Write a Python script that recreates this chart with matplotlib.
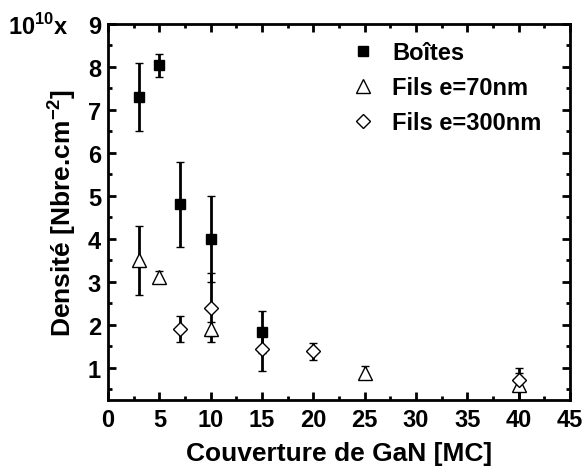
import matplotlib
matplotlib.use("Agg")
import matplotlib.pyplot as plt
from matplotlib.ticker import MultipleLocator

plt.rcParams["font.family"] = ["Liberation Sans", "DejaVu Sans"]
plt.rcParams["font.weight"] = "bold"
plt.rcParams["mathtext.fontset"] = "custom"
plt.rcParams["mathtext.rm"] = "Liberation Sans:bold"
plt.rcParams["mathtext.bf"] = "Liberation Sans:bold"

# Boîtes (quantum dots)
x_boites = [3, 5, 7, 10, 15]
y_boites = [7.3, 8.04, 4.8, 4.0, 1.83]
err_boites = [0.8, 0.27, 1.0, 1.0, 0.49]

# Fils e=70nm
x_fils70 = [3, 5, 10, 25, 40]
y_fils70 = [3.5, 3.12, 1.9, 0.88, 0.6]
err_fils70 = [0.8, 0.13, 0.17, 0.15, 0.4]

# Fils e=300nm
x_fils300 = [7, 10, 15, 20, 40]
y_fils300 = [1.9, 2.4, 1.43, 1.38, 0.72]
err_fils300 = [0.3, 0.8, 0.5, 0.2, 0.15]

labels = ["Boîtes", "Fils e=70nm", "Fils e=300nm"]

fig = plt.figure(figsize=(5.85, 4.77), dpi=100)
ax = fig.add_axes([108 / 585, 1 - 401 / 477, 462 / 585, 376 / 477])

common = dict(ls="none", ecolor="black", elinewidth=2, capsize=3, capthick=2,
              markeredgecolor="black", markeredgewidth=1)
h1 = ax.errorbar(x_boites, y_boites, yerr=err_boites, marker="s", ms=7,
                 markerfacecolor="black", **common)
h2 = ax.errorbar(x_fils70, y_fils70, yerr=err_fils70, marker="^", ms=10,
                 markerfacecolor="white", **common)
h3 = ax.errorbar(x_fils300, y_fils300, yerr=err_fils300, marker="D", ms=7.5,
                 markerfacecolor="white", **common)

ax.set_xlim(0, 45)
ax.set_ylim(0.25, 9)
ax.xaxis.set_major_locator(MultipleLocator(5))
ax.xaxis.set_minor_locator(MultipleLocator(2.5))
ax.yaxis.set_major_locator(MultipleLocator(1))
ax.yaxis.set_minor_locator(MultipleLocator(0.5))
ax.tick_params(which="both", direction="in", top=True, right=True, width=2,
               labelsize=17)
ax.tick_params(which="major", length=6)
ax.tick_params(which="minor", length=3)
ax.tick_params(axis="x", pad=6)
ax.tick_params(axis="y", pad=5)
for sp in ax.spines.values():
    sp.set_linewidth(2)

ax.set_xlabel("Couverture de GaN [MC]", fontsize=19, fontweight="bold", labelpad=7)
ax.set_ylabel(r"Densité [Nbre.cm$^{\mathbf{-2}}$]", fontsize=19, fontweight="bold",
              labelpad=7)

fig.text(8 / 585, 1 - 27 / 477, r"10$^{\mathbf{10}}$x", fontsize=17,
         fontweight="bold", ha="left", va="center")

ax.legend([h1[0], h2[0], h3[0]], labels, loc="upper right", frameon=False,
          prop=dict(size=17, weight="bold"), handletextpad=0.5, labelspacing=0.5,
          handlelength=1.5, bbox_to_anchor=(0.985, 1.01))

fig.savefig("out.png", dpi=100)
